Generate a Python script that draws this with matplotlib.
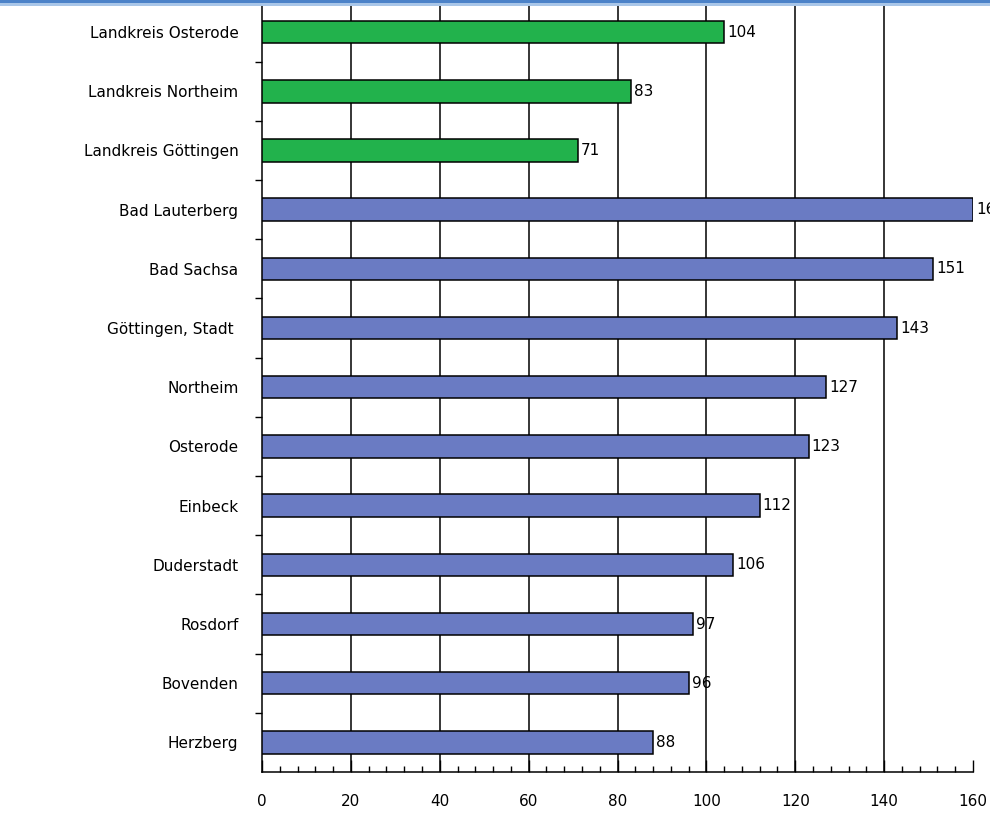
import matplotlib
matplotlib.use('Agg')
import matplotlib.pyplot as plt
from matplotlib.patches import Rectangle
from matplotlib.ticker import MultipleLocator, FixedLocator

# Kategorien (von oben nach unten)
orte = ['Landkreis Osterode', 'Landkreis Northeim', 'Landkreis Göttingen',
        'Bad Lauterberg', 'Bad Sachsa', 'Göttingen, Stadt ', 'Northeim',
        'Osterode', 'Einbeck', 'Duderstadt', 'Rosdorf', 'Bovenden', 'Herzberg']
werte = [104, 83, 71, 160, 151, 143, 127, 123, 112, 106, 97, 96, 88]
ist_landkreis = [True, True, True] + [False] * 10

GRUEN = '#22b24c'
BLAU = '#6a7bc3'

fig = plt.figure(figsize=(9.9, 8.14), dpi=100)
ax = fig.add_axes([262 / 990, 42 / 814, 711 / 990, 769.5 / 814])

pos = list(range(len(orte)))
farben = [GRUEN if lk else BLAU for lk in ist_landkreis]
ax.barh(pos, werte, height=0.38, color=farben, edgecolor='black',
        linewidth=1.1, zorder=3)

# Werte rechts neben den Balken
for y, w in zip(pos, werte):
    ax.text(w + 0.7, y, str(w), va='center', ha='left', fontsize=11,
            color='black', zorder=4, clip_on=False)

ax.set_xlim(0, 160)
ax.set_ylim(len(orte) - 0.5, -0.5)

# senkrechte Gitterlinien
for x in range(20, 160, 20):
    ax.axvline(x, color='black', linewidth=1.1, zorder=1)

ax.xaxis.set_major_locator(MultipleLocator(20))
ax.xaxis.set_minor_locator(MultipleLocator(4))
ax.tick_params(axis='x', which='major', direction='in', length=9, width=1,
               labelsize=11, pad=16)
ax.tick_params(axis='x', which='minor', direction='in', length=4, width=1)

ax.set_yticks(pos)
ax.set_yticklabels(orte)
ax.yaxis.set_minor_locator(FixedLocator([p + 0.5 for p in pos[:-1]]))
ax.tick_params(axis='y', which='major', length=0, labelsize=11, pad=17)
ax.tick_params(axis='y', which='minor', direction='out', length=5, width=1)

for s in ['top', 'right']:
    ax.spines[s].set_visible(False)
ax.spines['left'].set_linewidth(1.1)
ax.spines['bottom'].set_linewidth(1.1)

# blauer Streifen am oberen Rand
fig.patches.append(Rectangle((0, 1 - 3 / 814), 1, 3 / 814, transform=fig.transFigure,
                             facecolor='#4c82c8', edgecolor='none', zorder=10))
fig.patches.append(Rectangle((0, 1 - 6 / 814), 1, 3 / 814, transform=fig.transFigure,
                             facecolor='#a9c6e8', edgecolor='none', zorder=10))

fig.savefig('out.png', dpi=100)
